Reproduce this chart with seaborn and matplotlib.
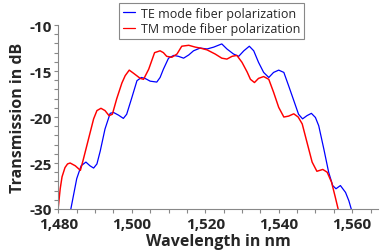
import numpy as np
import pandas as pd
import seaborn as sns
import matplotlib.pyplot as plt
from matplotlib.ticker import MultipleLocator, FuncFormatter

# TE mode (blue)
te_wl = [1483.3, 1484.1, 1485.0, 1486.2, 1487.5, 1488.6, 1489.6, 1490.5, 1491.4, 1492.7,
         1494.1, 1495.0, 1496.4, 1497.7, 1498.6, 1500.0, 1501.4, 1502.6, 1503.6, 1505.0,
         1506.8, 1507.7, 1508.6, 1510.0, 1511.4, 1512.7, 1514.1, 1515.5, 1516.8, 1518.6,
         1520.5, 1522.3, 1524.5, 1525.9, 1527.7, 1529.1, 1530.5, 1532.0, 1533.2, 1534.5,
         1535.9, 1537.3, 1538.6, 1540.0, 1541.4, 1542.7, 1544.1, 1545.4, 1546.5, 1547.7,
         1548.9, 1550.0, 1550.9, 1552.3, 1553.6, 1554.7, 1555.6, 1556.8, 1558.2, 1559.1,
         1559.9]
te_db = [-30.2, -28.55, -26.7, -25.3, -24.9, -25.3, -25.55, -25.1, -23.7, -21.3,
         -19.6, -19.5, -19.8, -20.15, -19.7, -17.9, -16.05, -15.7, -15.8, -16.1,
         -16.2, -15.7, -14.8, -13.6, -13.3, -13.4, -13.6, -13.25, -12.8, -12.5,
         -12.6, -12.4, -12.05, -12.6, -13.15, -13.4, -12.8, -12.3, -12.8, -14.05,
         -15.15, -15.7, -15.15, -14.9, -15.15, -16.6, -18.2, -19.7, -20.2, -19.85,
         -19.6, -20.05, -20.95, -23.5, -26.0, -27.45, -27.8, -27.45, -28.2, -29.1,
         -30.2]

# TM mode (red)
tm_wl = [1479.8, 1480.5, 1481.0, 1481.8, 1482.5, 1483.2, 1484.6, 1486.0, 1486.8, 1488.2,
         1489.6, 1490.5, 1491.6, 1492.7, 1493.8, 1494.7, 1495.9, 1497.3, 1498.2, 1499.3,
         1500.5, 1502.3, 1503.2, 1504.6, 1506.2, 1507.7, 1508.6, 1509.5, 1510.9, 1512.3,
         1513.6, 1515.5, 1517.3, 1518.6, 1520.5, 1522.7, 1524.5, 1525.9, 1527.3, 1528.6,
         1530.0, 1531.4, 1532.3, 1533.4, 1534.5, 1535.9, 1537.3, 1538.6, 1540.0, 1541.4,
         1542.7, 1544.1, 1545.3, 1546.4, 1547.7, 1549.1, 1550.4, 1552.0, 1553.2, 1554.4,
         1555.4, 1556.3]
tm_db = [-30.5, -27.8, -26.5, -25.5, -25.1, -25.0, -25.3, -25.8, -24.6, -22.4,
         -20.2, -19.3, -19.05, -19.3, -19.85, -19.7, -18.0, -16.3, -15.5, -14.9,
         -15.25, -15.8, -15.9, -14.8, -13.0, -12.8, -13.0, -13.4, -13.5, -13.15,
         -12.3, -12.2, -12.4, -12.5, -12.7, -13.15, -13.6, -13.7, -13.4, -13.3,
         -14.05, -15.1, -15.9, -16.25, -15.8, -15.6, -15.9, -17.3, -18.95, -20.0,
         -19.9, -19.65, -20.0, -20.75, -22.75, -24.9, -25.9, -25.7, -26.0, -27.1,
         -28.7, -30.2]

labels = ["TE mode fiber polarization", "TM mode fiber polarization"]

sns.set_style("ticks")
plt.rcParams['font.family'] = ['Open Sans', 'DejaVu Sans']
plt.rcParams['axes.unicode_minus'] = False

fig = plt.figure(figsize=(3.84, 2.53), dpi=100)
ax = fig.add_axes([0.152, 0.17, 0.832, 0.727])

sns.lineplot(x=te_wl, y=te_db, color='#0000ff', linewidth=0.9, label=labels[0], ax=ax, sort=False)
sns.lineplot(x=tm_wl, y=tm_db, color='#ff0000', linewidth=1.05, label=labels[1], ax=ax, sort=False)

ax.set_xlim(1480, 1567)
ax.set_ylim(-30, -10)
ax.xaxis.set_major_locator(MultipleLocator(20))
ax.xaxis.set_minor_locator(MultipleLocator(5))
ax.yaxis.set_major_locator(MultipleLocator(5))
ax.yaxis.set_minor_locator(MultipleLocator(1))
ax.xaxis.set_major_formatter(FuncFormatter(lambda v, p: f"{v:,.0f}"))
ax.yaxis.set_major_formatter(FuncFormatter(lambda v, p: f"{v:.0f}"))

for lab in ax.get_xticklabels() + ax.get_yticklabels():
    lab.set_fontweight('bold')
    lab.set_fontsize(11)
ax.tick_params(which='both', length=3, width=0.8, color='#888888')
ax.tick_params(axis='x', which='major', pad=2.5)
ax.tick_params(axis='y', which='major', pad=2)

sns.despine(ax=ax)
for s in ['left', 'bottom']:
    ax.spines[s].set_color('#888888')
    ax.spines[s].set_linewidth(0.8)

ax.set_xlabel("Wavelength in nm", fontsize=11.5, fontweight='bold', labelpad=1.5)
ax.set_ylabel("Transmission in dB", fontsize=11.5, fontweight='bold', labelpad=2)

leg = ax.legend(loc='upper center', bbox_to_anchor=(0.551, 0.984), bbox_transform=fig.transFigure,
                fontsize=9, frameon=True, fancybox=False, framealpha=1, edgecolor='#888888',
                handlelength=1.0, handletextpad=0.5, borderpad=0.3, labelspacing=0.2,
                borderaxespad=0)
leg.get_frame().set_linewidth(0.8)
for line in leg.get_lines():
    line.set_linewidth(0.9)

plt.savefig("out.png", dpi=100)
